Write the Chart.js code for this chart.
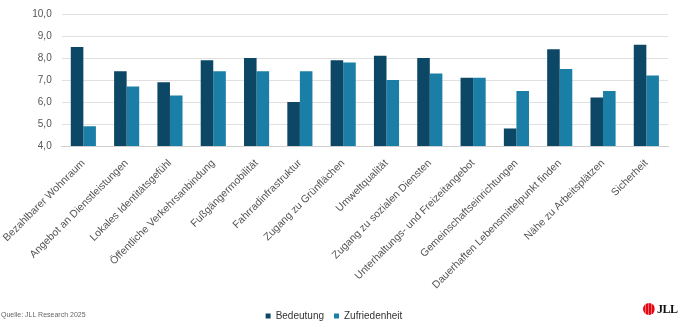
<!DOCTYPE html>
<html>
<head>
<meta charset="utf-8">
<script src="https://cdn.jsdelivr.net/npm/chart.js@4"></script>
<style>
  html, body { margin: 0; padding: 0; background: #fff; }
  #wrap { position: relative; width: 678px; height: 325px; overflow: hidden; }
  canvas { position: absolute; left: 0; top: 0; }
  #source { position: absolute; left: 1px; top: 311px; font: 7px "Liberation Sans", Arial, sans-serif; color: #666; }
  #logo { position: absolute; left: 643px; top: 302px; height: 14px; display: flex; align-items: center; }
  #logo .dot { width: 12px; height: 12px; border-radius: 50%; background: repeating-linear-gradient(90deg, #e30613 0 2px, #f36c74 2px 3px); }
  #logo .txt { margin-left: 2px; font: bold 12px "Liberation Serif", serif; color: #111; letter-spacing: -0.5px; }
</style>
</head>
<body>
<div id="wrap">
  <canvas id="c" width="678" height="325"></canvas>
  <div id="source">Quelle: JLL Research 2025</div>
  <div id="logo"><div class="dot"></div><div class="txt">JLL</div></div>
</div>
<script>
const categories = [
  "Bezahlbarer Wohnraum",
  "Angebot an Dienstleistungen",
  "Lokales Identitätsgefühl",
  "Öffentliche Verkehrsanbindung",
  "Fußgängermobilität",
  "Fahrradinfrastruktur",
  "Zugang zu Grünflächen",
  "Umweltqualität",
  "Zugang zu sozialen Diensten",
  "Unterhaltungs- und Freizeitangebot",
  "Gemeinschaftseinrichtungen",
  "Dauerhaften Lebensmittelpunkt finden",
  "Nähe zu Arbeitsplätzen",
  "Sicherheit"
];
const bedeutung = [8.5, 7.4, 6.9, 7.9, 8.0, 6.0, 7.9, 8.1, 8.0, 7.1, 4.8, 8.4, 6.2, 8.6];
const zufriedenheit = [4.9, 6.7, 6.3, 7.4, 7.4, 7.4, 7.8, 7.0, 7.3, 7.1, 6.5, 7.5, 6.5, 7.2];
const yTicks = [4, 5, 6, 7, 8, 9, 10];

new Chart(document.getElementById('c'), {
  type: 'bar',
  data: {
    labels: categories,
    datasets: [
      { label: 'Bedeutung', data: bedeutung, backgroundColor: '#0c4766' },
      { label: 'Zufriedenheit', data: zufriedenheit, backgroundColor: '#1b7ea6' }
    ]
  },
  options: {
    responsive: false,
    animation: false,
    devicePixelRatio: 1,
    layout: { padding: { top: 14, right: 10, bottom: -6, left: 0 } },
    datasets: { bar: { barPercentage: 1.0, categoryPercentage: 0.58 } },
    plugins: {
      legend: {
        position: 'bottom',
        labels: {
          boxWidth: 5, boxHeight: 5, padding: 10,
          color: '#333',
          font: { family: '"Liberation Sans", Arial, sans-serif', size: 10 }
        }
      },
      tooltip: { enabled: false }
    },
    scales: {
      x: {
        grid: { display: false },
        border: { color: '#d0d0d0' },
        ticks: {
          autoSkip: false, maxRotation: 45, minRotation: 45,
          color: '#555',
          font: { family: '"Liberation Sans", Arial, sans-serif', size: 10.5 },
          padding: 3
        },
        afterFit: (s) => { s.height = 155; }
      },
      y: {
        min: 4, max: 10,
        afterBuildTicks: (s) => { s.ticks = yTicks.map(v => ({ value: v })); },
        afterFit: (s) => { s.width = 58; s.paddingTop = 0; },
        grid: { color: '#e0e0e0', drawTicks: false },
        border: { display: false },
        ticks: {
          color: '#555',
          padding: 10,
          font: { family: '"Liberation Sans", Arial, sans-serif', size: 10 },
          callback: (v) => v.toFixed(1).replace('.', ',')
        }
      }
    }
  }
});
</script>
</body>
</html>
